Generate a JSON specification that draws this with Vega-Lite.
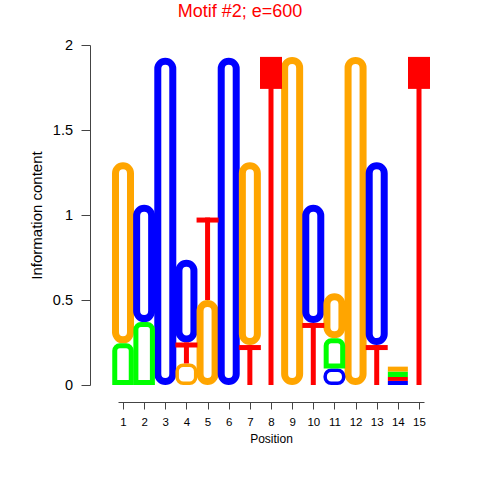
{
  "$schema": "https://vega.github.io/schema/vega-lite/v6.json",
  "autosize": {"type": "none"},
  "padding": {"left": 118, "top": 45, "right": 56, "bottom": 95},
  "width": 306,
  "height": 340,
  "background": "white",
  "title": {"text": "Motif #2; e=600", "color": "#FF0000", "fontSize": 18, "fontWeight": "normal", "font": "Liberation Sans", "anchor": "middle", "frame": "group", "dx": -31, "offset": 16.5},
  "data": {"values": [
    {"position": 1, "letter": "A", "bottom": 0, "top": 0.245},
    {"position": 1, "letter": "G", "bottom": 0.245, "top": 1.31},
    {"position": 2, "letter": "A", "bottom": 0, "top": 0.37},
    {"position": 2, "letter": "C", "bottom": 0.37, "top": 1.06},
    {"position": 3, "letter": "C", "bottom": 0, "top": 1.925},
    {"position": 4, "letter": "G", "bottom": 0, "top": 0.127},
    {"position": 4, "letter": "T", "bottom": 0.127, "top": 0.25},
    {"position": 4, "letter": "C", "bottom": 0.25, "top": 0.737},
    {"position": 5, "letter": "G", "bottom": 0, "top": 0.5},
    {"position": 5, "letter": "T", "bottom": 0.5, "top": 0.985},
    {"position": 6, "letter": "C", "bottom": 0, "top": 1.925},
    {"position": 7, "letter": "T", "bottom": 0, "top": 0.235},
    {"position": 7, "letter": "G", "bottom": 0.235, "top": 1.31},
    {"position": 8, "letter": "T", "bottom": 0, "top": 1.93},
    {"position": 9, "letter": "G", "bottom": 0, "top": 1.93},
    {"position": 10, "letter": "T", "bottom": 0, "top": 0.365},
    {"position": 10, "letter": "C", "bottom": 0.365, "top": 1.06},
    {"position": 11, "letter": "C", "bottom": 0, "top": 0.097},
    {"position": 11, "letter": "A", "bottom": 0.097, "top": 0.275},
    {"position": 11, "letter": "G", "bottom": 0.275, "top": 0.54},
    {"position": 12, "letter": "G", "bottom": 0, "top": 1.93},
    {"position": 13, "letter": "T", "bottom": 0, "top": 0.235},
    {"position": 13, "letter": "C", "bottom": 0.235, "top": 1.31},
    {"position": 14, "letter": "C", "bottom": 0, "top": 0.024},
    {"position": 14, "letter": "T", "bottom": 0.024, "top": 0.047},
    {"position": 14, "letter": "A", "bottom": 0.047, "top": 0.079},
    {"position": 14, "letter": "G", "bottom": 0.079, "top": 0.108},
    {"position": 15, "letter": "T", "bottom": 0, "top": 1.93}
  ]},
  "encoding": {
    "x": {"field": "position", "type": "quantitative",
      "scale": {"domain": [1, 15], "nice": false, "zero": false},
      "axis": {"values": [1,2,3,4,5,6,7,8,9,10,11,12,13,14,15], "format": "d", "offset": 17, "tickSize": 7, "labelFontSize": 11.5, "labelPadding": 7, "labelFlush": false, "labelOverlap": false, "title": "Position", "titleFontSize": 12, "titleFontWeight": "normal", "titlePadding": 6, "domainColor": "#444", "tickColor": "#444", "labelColor": "#000", "titleColor": "#000", "labelFont": "Liberation Sans", "titleFont": "Liberation Sans"}},
    "y": {"field": "top", "type": "quantitative",
      "scale": {"domain": [0, 2], "nice": false, "zero": true},
      "axis": {"values": [0, 0.5, 1, 1.5, 2], "format": "~g", "offset": 28, "tickSize": 9, "labelFontSize": 14.5, "labelPadding": 8.5, "labelFlush": false, "labelOverlap": false, "title": "Information content", "titleFontSize": 15, "titleFontWeight": "normal", "titlePadding": 8, "domainColor": "#444", "tickColor": "#444", "labelColor": "#000", "titleColor": "#000", "labelFont": "Liberation Sans", "titleFont": "Liberation Sans"}},
    "y2": {"field": "bottom"}
  },
  "layer": [
    {
      "transform": [{"filter": "(datum.letter == 'C' || datum.letter == 'G') && datum.top - datum.bottom >= 0.15"}],
      "mark": {"type": "bar", "fill": "white", "strokeWidth": 7, "width": 15, "cornerRadius": 7.5, "yOffset": 3.5, "y2Offset": -3.5},
      "encoding": {"stroke": {"field": "letter", "type": "nominal", "scale": {"domain": ["A", "C", "G", "T"], "range": ["#00FF00", "#0000FF", "#FFA500", "#FF0000"]}, "legend": null}}
    },
    {
      "transform": [{"filter": "(datum.letter == 'C' || datum.letter == 'G') && datum.top - datum.bottom >= 0.05 && datum.top - datum.bottom < 0.15"}],
      "mark": {"type": "bar", "fill": "white", "strokeWidth": 3.5, "width": 18.5, "cornerRadius": 6, "yOffset": 1.75, "y2Offset": -1.75},
      "encoding": {"stroke": {"field": "letter", "type": "nominal", "scale": {"domain": ["A", "C", "G", "T"], "range": ["#00FF00", "#0000FF", "#FFA500", "#FF0000"]}, "legend": null}}
    },
    {
      "transform": [{"filter": "datum.letter == 'A' && datum.top - datum.bottom >= 0.05"}],
      "mark": {"type": "bar", "fill": "white", "strokeWidth": 5, "width": 16.5, "cornerRadiusTopLeft": 5, "cornerRadiusTopRight": 5, "yOffset": 2.5, "y2Offset": -2.5},
      "encoding": {"stroke": {"field": "letter", "type": "nominal", "scale": {"domain": ["A", "C", "G", "T"], "range": ["#00FF00", "#0000FF", "#FFA500", "#FF0000"]}, "legend": null}}
    },
    {
      "transform": [{"filter": "datum.letter == 'T' && datum.top - datum.bottom >= 0.05"}],
      "mark": {"type": "bar", "fill": "#FF0000", "width": 5}
    },
    {
      "transform": [{"filter": "datum.letter == 'T' && datum.top - datum.bottom >= 1"}],
      "mark": {"type": "bar", "fill": "#FF0000", "width": 22, "y2Offset": 32},
      "encoding": {"y2": {"field": "top"}}
    },
    {
      "transform": [{"filter": "datum.letter == 'T' && datum.top - datum.bottom >= 0.05 && datum.top - datum.bottom < 1"}],
      "mark": {"type": "bar", "fill": "#FF0000", "width": 22, "y2Offset": 5},
      "encoding": {"y2": {"field": "top"}}
    },
    {
      "transform": [{"filter": "datum.top - datum.bottom < 0.05"}],
      "mark": {"type": "bar", "width": 20},
      "encoding": {"fill": {"field": "letter", "type": "nominal", "scale": {"domain": ["A", "C", "G", "T"], "range": ["#00FF00", "#0000FF", "#FFA500", "#FF0000"]}, "legend": null}}
    }
  ],
  "config": {"view": {"stroke": null}, "axis": {"grid": false}, "font": "Liberation Sans"}
}
